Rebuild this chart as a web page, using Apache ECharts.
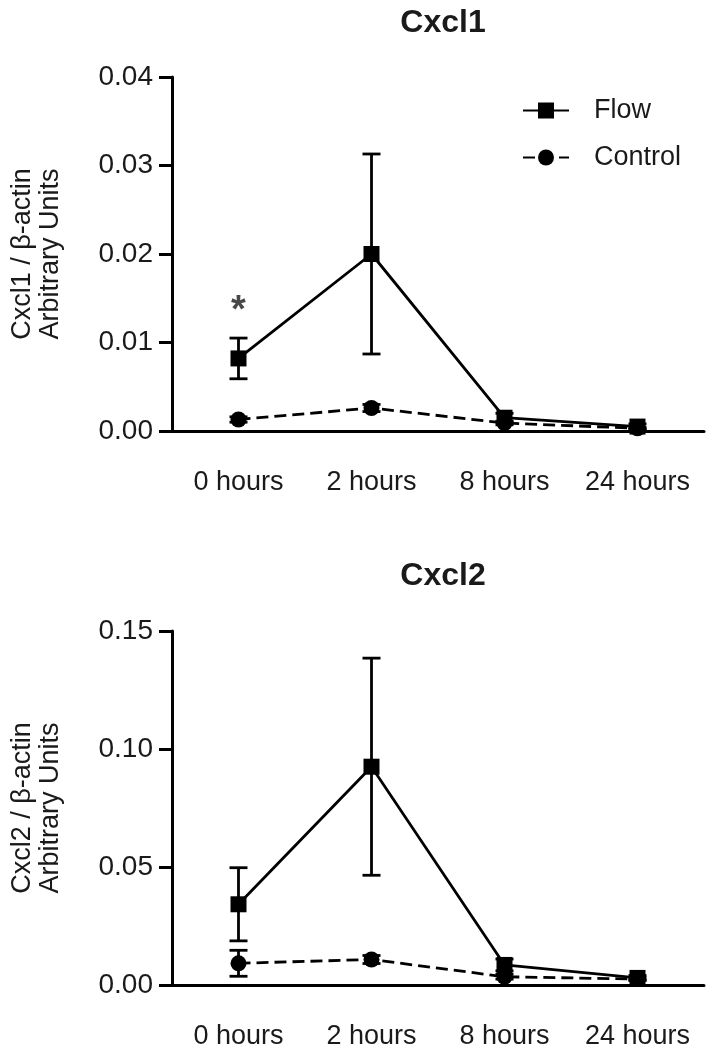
<!DOCTYPE html>
<html>
<head>
<meta charset="utf-8">
<script src="https://cdn.jsdelivr.net/npm/echarts@6/dist/echarts.min.js"></script>
<style>
html,body{margin:0;padding:0;background:#fff;}
#chart{width:710px;height:1050px;}
</style>
</head>
<body>
<div id="chart"></div>
<script>
const categories = ['0 hours', '2 hours', '8 hours', '24 hours'];

const cxcl1FlowMean = [0.0082, 0.0200, 0.0015, 0.0005];
const cxcl1FlowErr = [0.0023, 0.0113, 0.0005, 0.0003];
const cxcl1CtrlMean = [0.0013, 0.0026, 0.0009, 0.0003];
const cxcl1CtrlErr = [0.0003, 0.0004, 0.0002, 0.0001];

const cxcl2FlowMean = [0.0342, 0.0925, 0.0085, 0.0030];
const cxcl2FlowErr = [0.0155, 0.0460, 0.0025, 0.0010];
const cxcl2CtrlMean = [0.0092, 0.0108, 0.0035, 0.0025];
const cxcl2CtrlErr = [0.0055, 0.0017, 0.0010, 0.0005];

const cxcl1Ticks = { min: 0, max: 0.04, interval: 0.01 };
const cxcl2Ticks = { min: 0, max: 0.15, interval: 0.05 };

const significance = [{ index: 0, value: 0.0135, text: '*' }];

const FONT = '"Liberation Sans", Arial, sans-serif';
const TXT = '#1a1a1a';

function errData(mean, err) {
  return mean.map((m, i) => [i, m - err[i], m + err[i]]);
}

function errSeries(idx, mean, err) {
  return {
    type: 'custom',
    xAxisIndex: idx, yAxisIndex: idx,
    data: errData(mean, err),
    encode: { x: 0, y: [1, 2] },
    z: 3,
    silent: true,
    renderItem: function (params, api) {
      const i = api.value(0);
      const lo = api.coord([i, api.value(1)]);
      const hi = api.coord([i, api.value(2)]);
      const cap = 9;
      const st = { stroke: '#000', lineWidth: 2.8 };
      return {
        type: 'group',
        children: [
          { type: 'line', shape: { x1: lo[0], y1: lo[1], x2: hi[0], y2: hi[1] }, style: st },
          { type: 'line', shape: { x1: lo[0] - cap, y1: lo[1], x2: lo[0] + cap, y2: lo[1] }, style: st },
          { type: 'line', shape: { x1: hi[0] - cap, y1: hi[1], x2: hi[0] + cap, y2: hi[1] }, style: st }
        ]
      };
    }
  };
}

function lineSeries(idx, name, data, symbol, dashed) {
  return {
    type: 'line', name: name,
    xAxisIndex: idx, yAxisIndex: idx,
    data: data,
    symbol: symbol, symbolSize: 16,
    showSymbol: true,
    itemStyle: { color: '#000' },
    lineStyle: { color: '#000', width: 2.8, type: dashed ? [12, 6] : 'solid' },
    z: dashed ? 4 : 5,
    animation: false
  };
}

function xAxis(idx) {
  return {
    type: 'category', gridIndex: idx, data: categories,
    boundaryGap: true,
    axisLine: { lineStyle: { color: '#000', width: 3 } },
    axisTick: { alignWithLabel: true, interval: 0, length: 13, lineStyle: { color: '#000', width: 3 } },
    axisLabel: { interval: 0, color: TXT, fontSize: 27, fontFamily: FONT, margin: 38 },
    splitLine: { show: false }
  };
}

function yAxis(idx, ticks, name) {
  return {
    type: 'value', gridIndex: idx,
    min: ticks.min, max: ticks.max, interval: ticks.interval,
    name: name, nameLocation: 'middle', nameRotate: 90, nameGap: 107,
    nameTextStyle: { color: TXT, fontSize: 27, fontFamily: FONT, lineHeight: 28 },
    axisLine: { show: true, lineStyle: { color: '#000', width: 3 } },
    axisTick: { show: true, length: 13, lineStyle: { color: '#000', width: 3 } },
    axisLabel: {
      color: TXT, fontSize: 28, fontFamily: FONT, margin: 19,
      formatter: v => v.toFixed(2)
    },
    splitLine: { show: false }
  };
}

const chart = echarts.init(document.getElementById('chart'), null, { renderer: 'canvas' });

chart.setOption({
  animation: false,
  backgroundColor: '#fff',
  title: [
    { text: 'Cxcl1', left: 438, top: 2, textAlign: 'center',
      textStyle: { fontSize: 32, fontWeight: 'bold', color: TXT, fontFamily: FONT } },
    { text: 'Cxcl2', left: 438, top: 555, textAlign: 'center',
      textStyle: { fontSize: 32, fontWeight: 'bold', color: TXT, fontFamily: FONT } }
  ],
  legend: {
    data: ['Flow', 'Control'],
    orient: 'vertical',
    left: 517, top: 92,
    itemWidth: 46, itemHeight: 20, itemGap: 20,
    textStyle: { fontSize: 27, color: TXT, fontFamily: FONT, padding: [0, 0, 0, 20] },
    selectedMode: false
  },
  grid: [
    { left: 172, top: 77, width: 532, height: 354, containLabel: false, outerBoundsMode: 'none' },
    { left: 172, top: 631, width: 532, height: 354, containLabel: false, outerBoundsMode: 'none' }
  ],
  xAxis: [xAxis(0), xAxis(1)],
  yAxis: [
    yAxis(0, cxcl1Ticks, 'Cxcl1 / \u03b2-actin\nArbitrary Units'),
    yAxis(1, cxcl2Ticks, 'Cxcl2 / \u03b2-actin\nArbitrary Units')
  ],
  series: [
    errSeries(0, cxcl1CtrlMean, cxcl1CtrlErr),
    errSeries(0, cxcl1FlowMean, cxcl1FlowErr),
    lineSeries(0, 'Control', cxcl1CtrlMean, 'circle', true),
    lineSeries(0, 'Flow', cxcl1FlowMean, 'rect', false),
    errSeries(1, cxcl2CtrlMean, cxcl2CtrlErr),
    errSeries(1, cxcl2FlowMean, cxcl2FlowErr),
    lineSeries(1, 'Control', cxcl2CtrlMean, 'circle', true),
    lineSeries(1, 'Flow', cxcl2FlowMean, 'rect', false),
    {
      type: 'scatter', xAxisIndex: 0, yAxisIndex: 0,
      data: significance.map(s => [s.index, s.value]),
      symbolSize: 1, itemStyle: { color: 'rgba(0,0,0,0)' },
      silent: true,
      label: {
        show: true, position: 'inside', formatter: () => significance[0].text,
        fontSize: 38, fontWeight: 'bold', color: TXT, fontFamily: FONT
      }
    }
  ]
});
</script>
</body>
</html>
